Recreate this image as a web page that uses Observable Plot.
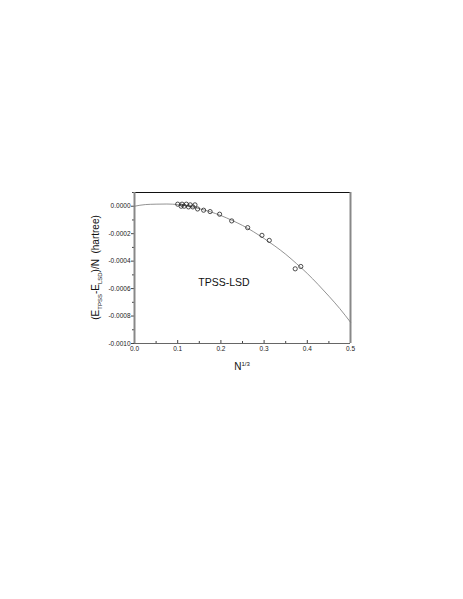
<!DOCTYPE html>
<html><head><meta charset="utf-8">
<script src="https://cdn.jsdelivr.net/npm/d3@7"></script>
<script src="https://cdn.jsdelivr.net/npm/@observablehq/plot@0.6"></script>
<style>body{margin:0;background:#fff}svg{display:block}</style>
</head><body><div id="chart"></div>
<script>
// Data points: N^{1/3} and (E_TPSS - E_LSD)/N in hartree
const pointX = [0.100, 0.108, 0.110, 0.115, 0.120, 0.125, 0.129, 0.135, 0.140, 0.146, 0.160, 0.175, 0.197, 0.225, 0.262, 0.295, 0.312, 0.372, 0.385];
const pointY = [0.000015, 0.000000, 0.000015, 0.000000, 0.000015, -0.000005, 0.000010, -0.000005, 0.000010, -0.000020, -0.000029, -0.000039, -0.000058, -0.000107, -0.000156, -0.000212, -0.000249, -0.000456, -0.000439];
// Fitted curve
const curveX = [0, 0.025, 0.05, 0.075, 0.1, 0.125, 0.15, 0.175, 0.2, 0.225, 0.25, 0.275, 0.3, 0.325, 0.35, 0.375, 0.4, 0.425, 0.45, 0.475, 0.5];
const curveY = [0, 0.000012, 0.000015, 0.000016, 0.000012, 0.000000, -0.000018, -0.000040, -0.000068, -0.000102, -0.000140, -0.000185, -0.000235, -0.000290, -0.000350, -0.000418, -0.000490, -0.000570, -0.000655, -0.000745, -0.000845];
const xTicks = [0, 0.1, 0.2, 0.3, 0.4, 0.5];
const xMinor = [0.05, 0.15, 0.25, 0.35, 0.45];
const yTicks = [0, -0.0002, -0.0004, -0.0006, -0.0008, -0.0010];
const yMinor = [0.0001, -0.0001, -0.0003, -0.0005, -0.0007, -0.0009];
const annotation = [{x: 0.207, y: -0.000556, text: "TPSS-LSD"}];

const points = pointX.map((x, i) => ({x, y: pointY[i]}));
const curve = curveX.map((x, i) => ({x, y: curveY[i]}));

const font = "Liberation Sans, Arial, sans-serif";
const plot = Plot.plot({
  width: 463, height: 599,
  marginLeft: 134, marginRight: 113, marginTop: 192, marginBottom: 256,
  style: {fontFamily: font, fontSize: "6.5px", color: "#222", background: "#fff"},
  x: {domain: [0, 0.5]},
  y: {domain: [-0.001, 0.0001]},
  marks: [
    Plot.axisX({ticks: xTicks, tickFormat: d => d.toFixed(1), tickSize: -3, tickPadding: 6, label: null, stroke: "#444", fill: "#222"}),
    Plot.axisX({ticks: xMinor, text: null, tickSize: -2, label: null, stroke: "#444"}),
    Plot.axisY({ticks: yTicks, tickFormat: d => d.toFixed(4), tickSize: 3, tickPadding: 1, label: null, stroke: "#444", fill: "#222"}),
    Plot.axisY({ticks: yMinor, text: null, tickSize: 2, label: null, stroke: "#444"}),
    Plot.ruleY([-0.001], {stroke: "#666", strokeWidth: 1.2}),
    Plot.ruleY([0.0001], {stroke: "#111", strokeWidth: 1}),
    Plot.ruleX([0, 0.5], {stroke: "#888", strokeWidth: 2}),
    Plot.line(curve, {x: "x", y: "y", stroke: "#777", strokeWidth: 0.8, curve: "monotone-x"}),
    Plot.dot(points, {x: "x", y: "y", r: 2.1, stroke: "#222", strokeWidth: 0.8, fill: "none"}),
    Plot.text(annotation, {x: "x", y: "y", text: "text", fontSize: 10.5, fill: "#111"})
  ]
});
document.getElementById("chart").appendChild(plot);

const svg = d3.select(plot);
const xs = plot.scale("x"), ys = plot.scale("y");
const cx = (xs.apply(0) + xs.apply(0.5)) / 2;
const cy = (ys.apply(-0.001) + ys.apply(0.0001)) / 2;
// x-axis title N^{1/3}
const xt = svg.append("text").attr("x", cx).attr("y", ys.apply(-0.001) + 27)
  .attr("text-anchor", "middle").attr("font-family", font).attr("font-size", 10).attr("fill", "#111");
xt.append("tspan").text("N");
xt.append("tspan").attr("dy", -4).attr("font-size", 6).text("1/3");
// y-axis title
const yt = svg.append("text").attr("transform", `translate(${xs.apply(0) - 35},${cy}) rotate(-90)`)
  .attr("text-anchor", "middle").attr("font-family", font).attr("font-size", 10).attr("fill", "#111");
yt.append("tspan").text("(E");
yt.append("tspan").attr("dy", 3).attr("font-size", 6).text("TPSS");
yt.append("tspan").attr("dy", -3).text("-E");
yt.append("tspan").attr("dy", 3).attr("font-size", 6).text("LSD");
yt.append("tspan").attr("dy", -3).text(")/N  (hartree)");
</script></body></html>
